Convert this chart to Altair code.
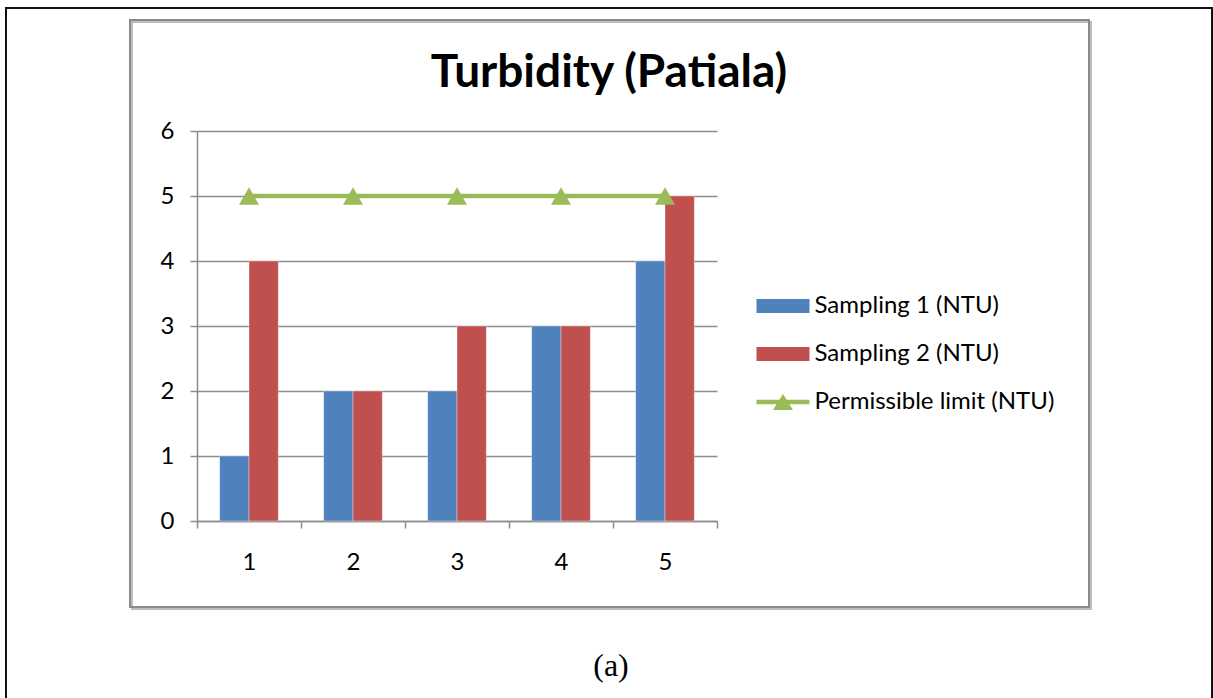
import altair as alt
import pandas as pd

# Sampling sites and turbidity readings (NTU)
sites = ["1", "2", "3", "4", "5"]
sampling_1 = [1, 2, 2, 3, 4]
sampling_2 = [4, 2, 3, 3, 5]
permissible_limit = [5, 5, 5, 5, 5]

S1 = "Sampling 1 (NTU)"
S2 = "Sampling 2 (NTU)"
PL = "Permissible limit (NTU)"
series_names = [S1, S2, PL]
series_colors = ["#4F81BD", "#C0504D", "#9BBB59"]

# Legend glyphs: wide swatch for the bar series, line with a triangle for the limit
SWATCH = "M-1.104,-0.292L1.104,-0.292L1.104,0.292L-1.104,0.292Z"
LINE_TRIANGLE = "M-1.104,-0.09L1.104,-0.09L1.104,0.09L-1.104,0.09Z M-0.417,0.33L0,-0.33L0.417,0.33Z"
series_glyphs = [SWATCH, SWATCH, LINE_TRIANGLE]

bars = pd.DataFrame(
    {
        "site": sites * 2,
        "series": [S1] * len(sites) + [S2] * len(sites),
        "value": sampling_1 + sampling_2,
    }
)
limit = pd.DataFrame({"site": sites, "series": [PL] * len(sites), "value": permissible_limit})
# rows with no value: they draw nothing, only feed the legend glyph scale
legend_rows = pd.DataFrame({"site": [sites[0]] * 3, "series": series_names, "value": [None] * 3})
one_row = pd.DataFrame({"k": [0]})

GRID = "#8C8C8C"
FONT = "Lato"

legend = alt.Legend(
    title=None,
    orient="none",
    legendX=562,
    legendY=151,
    padding=0,
    symbolSize=2304,
    symbolStrokeWidth=0,
    symbolOpacity=1,
    rowPadding=12,
    labelOffset=7.5,
    labelLimit=0,
    labelFont=FONT,
    labelFontSize=24,
    labelColor="#000000",
)

color = alt.Color(
    "series:N",
    scale=alt.Scale(domain=series_names, range=series_colors),
    legend=legend,
)
shape = alt.Shape(
    "series:N",
    scale=alt.Scale(domain=series_names, range=series_glyphs),
    legend=legend,
)

x_enc = alt.X(
    "site:N",
    sort=sites,
    scale=alt.Scale(paddingInner=0, paddingOuter=0),
    axis=alt.Axis(
        title=None,
        labelAngle=0,
        tickBand="extent",
        tickSize=7,
        tickColor=GRID,
        tickWidth=1.5,
        domainColor=GRID,
        domainWidth=1.5,
        labelFont=FONT,
        labelFontSize=24,
        labelColor="#000000",
        labelBaseline="middle",
        labelPadding=34,
        grid=False,
    ),
)
y_enc = alt.Y(
    "value:Q",
    scale=alt.Scale(domain=[0, 6], nice=False),
    axis=alt.Axis(
        title=None,
        values=[0, 1, 2, 3, 4, 5, 6],
        format="d",
        tickSize=7,
        tickColor=GRID,
        tickWidth=1.5,
        domainColor=GRID,
        domainWidth=1.5,
        gridColor=GRID,
        gridWidth=1.5,
        labelFont=FONT,
        labelFontSize=24,
        labelColor="#000000",
        labelPadding=16,
    ),
)

# Decorative frames around the chart area and the figure
outer_frame = alt.Chart(one_row).mark_rect(fill="transparent", stroke="#111111", strokeWidth=2).encode(
    x=alt.value(-191), x2=alt.value(1015), y=alt.value(-123), y2=alt.value(620)
)
frame_shadow = alt.Chart(one_row).mark_rect(fill="transparent", stroke="#BDBDBD", strokeWidth=2).encode(
    x=alt.value(-65), x2=alt.value(894), y=alt.value(-109), y2=alt.value(478)
)
inner_frame = alt.Chart(one_row).mark_rect(fill="transparent", stroke="#8A8A8A", strokeWidth=2).encode(
    x=alt.value(-67), x2=alt.value(892), y=alt.value(-111), y2=alt.value(476)
)

bar_layer = alt.Chart(bars).mark_bar(stroke="#FFFFFF", strokeWidth=0.6, strokeOpacity=0.6).encode(
    x=x_enc,
    xOffset=alt.XOffset(
        "series:N",
        sort=[S1, S2],
        scale=alt.Scale(domain=[S1, S2], paddingInner=0, paddingOuter=0.775),
    ),
    y=y_enc,
    color=color,
)

line_layer = alt.Chart(limit).mark_line(color="#9BBB59", strokeWidth=4.5).encode(
    x=alt.X("site:N", sort=sites), y="value:Q"
)
point_layer = alt.Chart(limit).mark_point(
    shape="triangle-up", filled=True, size=400, opacity=1
).encode(x=alt.X("site:N", sort=sites), y="value:Q", color=color)

legend_layer = alt.Chart(legend_rows).mark_point(filled=True, opacity=1).encode(
    x=alt.X("site:N", sort=sites), y="value:Q", color=color, shape=shape
)

title_layer = alt.Chart(pd.DataFrame({"t": ["Turbidity (Patiala)"]})).mark_text(
    font=FONT, fontSize=46, fontWeight="bold", color="#000000", align="center", baseline="middle"
).encode(x=alt.value(412), y=alt.value(-58), text="t:N")

caption_layer = alt.Chart(pd.DataFrame({"t": ["(a)"]})).mark_text(
    font="Liberation Serif", fontSize=32, color="#000000", align="center", baseline="middle"
).encode(x=alt.value(414), y=alt.value(535), text="t:N")

chart = (
    alt.layer(
        outer_frame,
        frame_shadow,
        inner_frame,
        bar_layer,
        line_layer,
        point_layer,
        legend_layer,
        title_layer,
        caption_layer,
    )
    .resolve_scale(x="shared", y="shared", color="shared")
    .properties(
        width=520,
        height=390,
        autosize=alt.AutoSizeParams(type="none"),
        padding={"left": 197, "top": 131, "right": 496, "bottom": 177},
        background="#FFFFFF",
    )
    .configure_view(stroke=None)
)

chart.save("out.html", embed_options={"renderer": "svg", "actions": False})
